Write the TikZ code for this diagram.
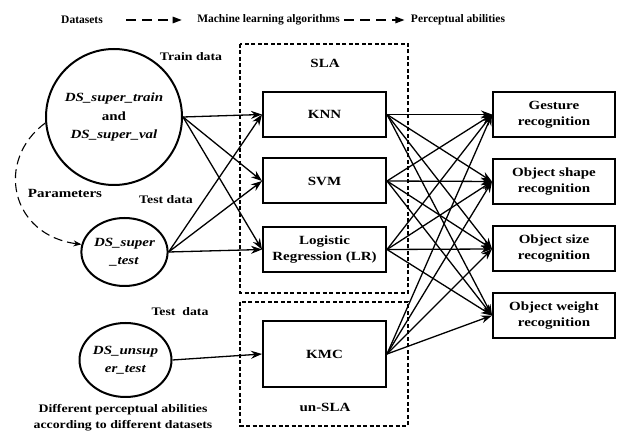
\documentclass[tikz,border=0pt]{standalone}
\usepackage{fontspec}
\setmainfont{Liberation Serif}
\newfontfamily\widefont{Liberation Serif}[FakeStretch=1.2]
\usetikzlibrary{shapes.geometric,arrows.meta}

\begin{document}
\begin{tikzpicture}[x=1pt, y=-1pt,
  every node/.style={font=\widefont\fontsize{12.5}{16}\selectfont\bfseries, align=center},
  algo/.style={draw, rectangle, line width=2pt, minimum width=123pt, minimum height=45pt, inner sep=0pt},
  data/.style={draw, ellipse, line width=2pt, inner sep=0pt, font=\widefont\fontsize{12.5}{18.5}\selectfont\bfseries},
  lbl/.style={font=\widefont\fontsize{11.5}{16}\selectfont\bfseries},
  head/.style={font=\rmfamily\fontsize{11.5}{13}\selectfont\bfseries},
  arr/.style={-{Stealth[length=11pt, width=8pt]}, line width=1.3pt},
  frame/.style={line width=2pt, dash pattern=on 4pt off 2.5pt},
  flow/.style={-{Triangle[length=9pt, width=6.5pt]}, line width=1.1pt, dash pattern=on 10pt off 6pt}]
        \useasboundingbox (0,0) rectangle (633,435);
        % header
        \node[head] (hdata) at (82,20) {Datasets};
        \node[head] (halg) at (268.5,20) {Machine learning algorithms};
        \node[head] (hperc) at (458,20) {Perceptual abilities};
        \draw[flow, shorten <=20pt, shorten >=12pt] (hdata.east) -- (halg.west);
        \draw[flow, shorten <=1pt, shorten >=3pt] (halg.east) -- (hperc.west);
        % frames
        \draw[frame] (240,44) rectangle (408,293);
        \draw[frame] (240,302) rectangle (408,426);
        \node (sla) at (325,63) {SLA};
        \node (usla) at (325,407) {un-SLA};
        % datasets
        \node[data, minimum width=136pt, minimum height=136pt, inner xsep=-3pt] (train) at (114,117)
            {\textit{DS\_super\_train}\\and\\\textit{DS\_super\_val}};
        \node[data, minimum width=85pt, minimum height=68pt] (test) at (124.5,252)
            {\textit{DS\_super}\\\textit{\_test}};
        \node[data, minimum width=85pt, minimum height=74pt] (unsup) at (125.5,360)
            {\textit{DS\_unsup}\\\textit{er\_test}};
        \node[lbl] (ltrain) at (191,57) {Train data};
        \node[lbl] (ltest) at (166,200) {Test data};
        \node[lbl] (lunsup) at (180,312) {Test~ data};
        \node (lpar) at (65,193) {Parameters};
        \node[lbl] (lnote) at (123,418) {Different perceptual abilities\\according to different datasets};
        % algorithms
        \node[algo] (knn) at (324.5,114.5) {KNN};
        \node[algo] (svm) at (324.5,181) {SVM};
        \node[algo] (lr) at (324.5,249.5) {Logistic\\Regression (LR)};
        \node[algo, minimum height=66pt] (kmc) at (324.5,354) {KMC};
        % abilities
        \node[algo, minimum width=122pt] (gest) at (554,114.5) {Gesture\\recognition};
        \node[algo, minimum width=122pt] (shape) at (554,181.5) {Object shape\\recognition};
        \node[algo, minimum width=122pt] (size) at (554,249) {Object size\\recognition};
        \node[algo, minimum width=122pt] (weight) at (554,315.5) {Object weight\\recognition};
        % connections
        \draw[-{Stealth[length=8pt, width=6pt]}, line width=1.1pt, dash pattern=on 9pt off 5pt]
            (train.185) .. controls (-5,160) and (10,235) .. (test.170);
        \foreach \a in {train,test}
            \foreach \b in {knn,svm,lr}
                \draw[arr] (\a.east) -- (\b.west);
        \draw[arr] (unsup.east) -- (kmc.west);
        \foreach \a in {knn,svm,lr,kmc}
            \foreach \b in {gest,shape,size,weight}
                \draw[arr] (\a.east) -- (\b.west);
    \end{tikzpicture}
\end{document}
